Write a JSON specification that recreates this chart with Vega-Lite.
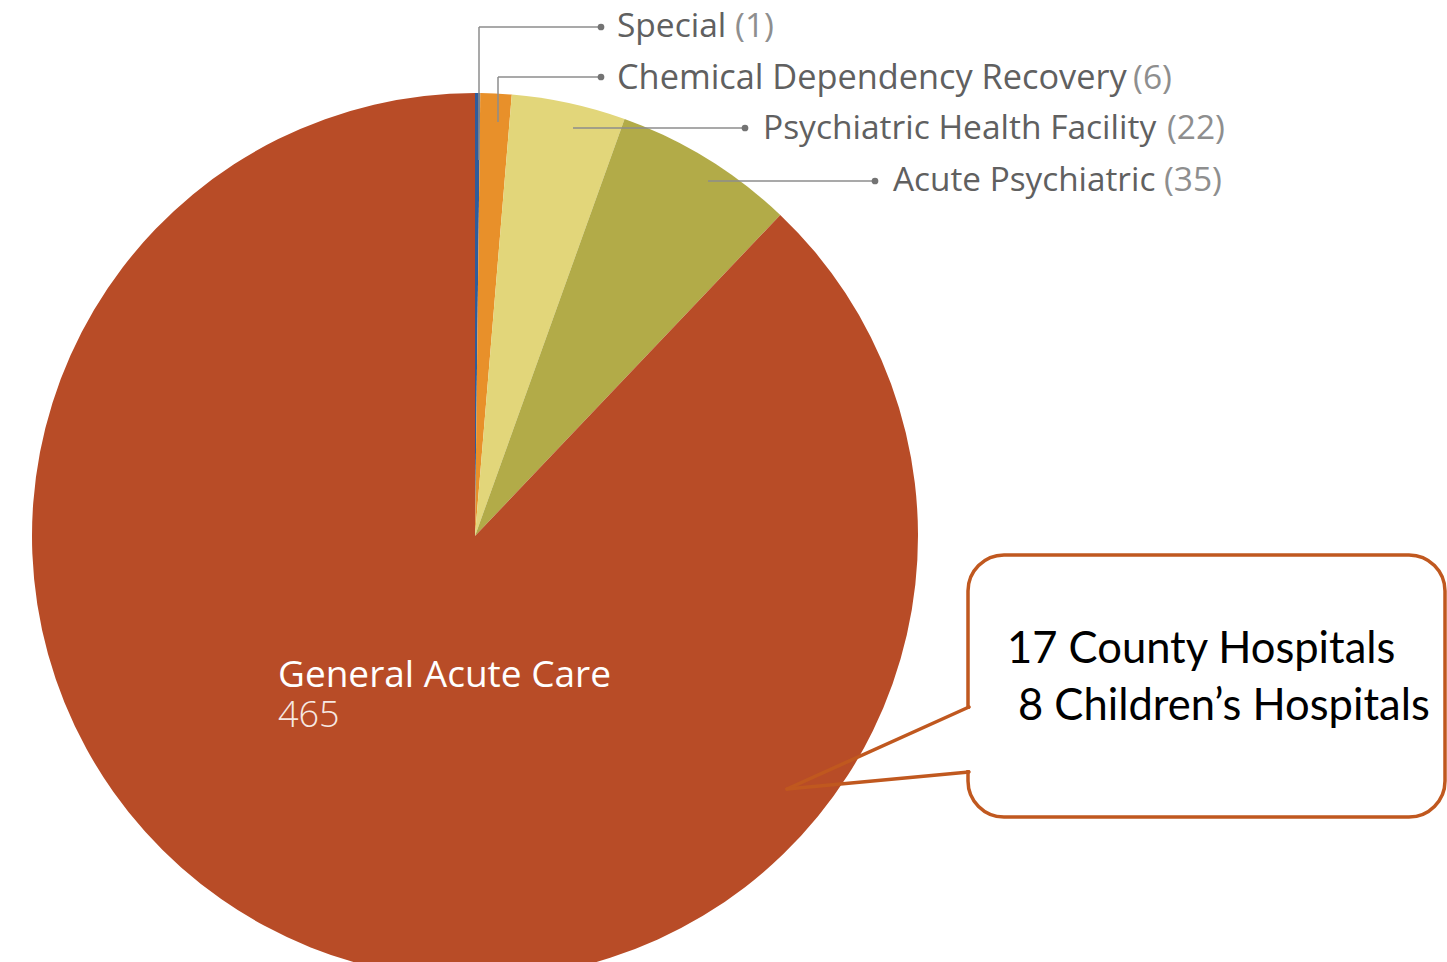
{
  "$schema": "https://vega.github.io/schema/vega-lite/v6.json",
  "width": 1447,
  "height": 962,
  "autosize": {"type": "none"},
  "padding": 0,
  "background": "white",
  "config": {"view": {"stroke": null}, "axis": {"disable": true}},
  "datasets": {
    "hospitals": [
      {"category": "Special", "count": 1},
      {"category": "Chemical Dependency Recovery", "count": 6},
      {"category": "Psychiatric Health Facility", "count": 22},
      {"category": "Acute Psychiatric", "count": 35},
      {"category": "General Acute Care", "count": 465}
    ]
  },
  "data": {"values": [{}]},
  "layer": [
    {
      "data": {"name": "hospitals"},
      "mark": {"type": "arc", "outerRadius": 443, "stroke": null},
      "encoding": {
        "theta": {"field": "count", "type": "quantitative", "stack": true},
        "order": {"field": "count", "type": "quantitative", "sort": "ascending"},
        "color": {
          "field": "category", "type": "nominal", "legend": null,
          "scale": {
            "domain": ["Special", "Chemical Dependency Recovery", "Psychiatric Health Facility", "Acute Psychiatric", "General Acute Care"],
            "range": ["#2f5c9b", "#e8902a", "#e2d67a", "#b2ab48", "#b84c27"]
          }
        },
        "x": {"datum": 475, "type": "quantitative", "scale": {"domain": [0, 1447], "nice": false, "zero": false}, "axis": null},
        "y": {"datum": 536, "type": "quantitative", "scale": {"domain": [0, 962], "nice": false, "zero": false, "reverse": true}, "axis": null}
      }
    },
    {"mark": {"type": "rule", "color": "#8c8c8c", "strokeWidth": 1.5},
     "encoding": {"x": {"datum": 479, "type": "quantitative"}, "x2": {"datum": 601}, "y": {"datum": 27, "type": "quantitative"}, "y2": {"datum": 27}}},
    {"mark": {"type": "rule", "color": "#8c8c8c", "strokeWidth": 1.5},
     "encoding": {"x": {"datum": 479, "type": "quantitative"}, "x2": {"datum": 479}, "y": {"datum": 27, "type": "quantitative"}, "y2": {"datum": 160}}},
    {"mark": {"type": "rule", "color": "#8c8c8c", "strokeWidth": 1.5},
     "encoding": {"x": {"datum": 498, "type": "quantitative"}, "x2": {"datum": 601}, "y": {"datum": 77, "type": "quantitative"}, "y2": {"datum": 77}}},
    {"mark": {"type": "rule", "color": "#8c8c8c", "strokeWidth": 1.5},
     "encoding": {"x": {"datum": 498, "type": "quantitative"}, "x2": {"datum": 498}, "y": {"datum": 77, "type": "quantitative"}, "y2": {"datum": 122}}},
    {"mark": {"type": "rule", "color": "#8c8c8c", "strokeWidth": 1.5},
     "encoding": {"x": {"datum": 573, "type": "quantitative"}, "x2": {"datum": 745}, "y": {"datum": 128, "type": "quantitative"}, "y2": {"datum": 128}}},
    {"mark": {"type": "rule", "color": "#8c8c8c", "strokeWidth": 1.5},
     "encoding": {"x": {"datum": 708, "type": "quantitative"}, "x2": {"datum": 875}, "y": {"datum": 181, "type": "quantitative"}, "y2": {"datum": 181}}},
    {"mark": {"type": "point", "filled": true, "color": "#737373", "size": 45, "opacity": 1},
     "encoding": {"x": {"datum": 601, "type": "quantitative"}, "y": {"datum": 27, "type": "quantitative"}}},
    {"mark": {"type": "point", "filled": true, "color": "#737373", "size": 45, "opacity": 1},
     "encoding": {"x": {"datum": 601, "type": "quantitative"}, "y": {"datum": 77, "type": "quantitative"}}},
    {"mark": {"type": "point", "filled": true, "color": "#737373", "size": 45, "opacity": 1},
     "encoding": {"x": {"datum": 745, "type": "quantitative"}, "y": {"datum": 128, "type": "quantitative"}}},
    {"mark": {"type": "point", "filled": true, "color": "#737373", "size": 45, "opacity": 1},
     "encoding": {"x": {"datum": 875, "type": "quantitative"}, "y": {"datum": 181, "type": "quantitative"}}},
    {"data": {"name": "hospitals"},
     "transform": [{"filter": "datum.category === 'Special'"}],
     "mark": {"type": "text", "align": "left", "baseline": "alphabetic", "font": "Open Sans", "fontSize": 33.5, "color": "#606060"},
     "encoding": {"x": {"datum": 617, "type": "quantitative"}, "y": {"datum": 37, "type": "quantitative"}, "text": {"field": "category"}}},
    {"data": {"name": "hospitals"},
     "transform": [{"filter": "datum.category === 'Special'"}, {"calculate": "'(' + datum.count + ')'", "as": "label"}],
     "mark": {"type": "text", "align": "right", "baseline": "alphabetic", "font": "Open Sans", "fontSize": 33.5, "color": "#8e8e8e"},
     "encoding": {"x": {"datum": 774, "type": "quantitative"}, "y": {"datum": 37, "type": "quantitative"}, "text": {"field": "label"}}},
    {"data": {"name": "hospitals"},
     "transform": [{"filter": "datum.category === 'Chemical Dependency Recovery'"}],
     "mark": {"type": "text", "align": "left", "baseline": "alphabetic", "font": "Open Sans", "fontSize": 34.3, "color": "#606060"},
     "encoding": {"x": {"datum": 617, "type": "quantitative"}, "y": {"datum": 89, "type": "quantitative"}, "text": {"field": "category"}}},
    {"data": {"name": "hospitals"},
     "transform": [{"filter": "datum.category === 'Chemical Dependency Recovery'"}, {"calculate": "'(' + datum.count + ')'", "as": "label"}],
     "mark": {"type": "text", "align": "right", "baseline": "alphabetic", "font": "Open Sans", "fontSize": 33.5, "color": "#8e8e8e"},
     "encoding": {"x": {"datum": 1172, "type": "quantitative"}, "y": {"datum": 89, "type": "quantitative"}, "text": {"field": "label"}}},
    {"data": {"name": "hospitals"},
     "transform": [{"filter": "datum.category === 'Psychiatric Health Facility'"}],
     "mark": {"type": "text", "align": "left", "baseline": "alphabetic", "font": "Open Sans", "fontSize": 33.5, "color": "#606060"},
     "encoding": {"x": {"datum": 763, "type": "quantitative"}, "y": {"datum": 139, "type": "quantitative"}, "text": {"field": "category"}}},
    {"data": {"name": "hospitals"},
     "transform": [{"filter": "datum.category === 'Psychiatric Health Facility'"}, {"calculate": "'(' + datum.count + ')'", "as": "label"}],
     "mark": {"type": "text", "align": "right", "baseline": "alphabetic", "font": "Open Sans", "fontSize": 33.5, "color": "#8e8e8e"},
     "encoding": {"x": {"datum": 1225, "type": "quantitative"}, "y": {"datum": 139, "type": "quantitative"}, "text": {"field": "label"}}},
    {"data": {"name": "hospitals"},
     "transform": [{"filter": "datum.category === 'Acute Psychiatric'"}],
     "mark": {"type": "text", "align": "left", "baseline": "alphabetic", "font": "Open Sans", "fontSize": 33.3, "color": "#606060"},
     "encoding": {"x": {"datum": 893, "type": "quantitative"}, "y": {"datum": 191, "type": "quantitative"}, "text": {"field": "category"}}},
    {"data": {"name": "hospitals"},
     "transform": [{"filter": "datum.category === 'Acute Psychiatric'"}, {"calculate": "'(' + datum.count + ')'", "as": "label"}],
     "mark": {"type": "text", "align": "right", "baseline": "alphabetic", "font": "Open Sans", "fontSize": 33.5, "color": "#8e8e8e"},
     "encoding": {"x": {"datum": 1222, "type": "quantitative"}, "y": {"datum": 191, "type": "quantitative"}, "text": {"field": "label"}}},
    {"data": {"name": "hospitals"},
     "transform": [{"filter": "datum.category === 'General Acute Care'"}],
     "mark": {"type": "text", "align": "left", "baseline": "alphabetic", "font": "Open Sans", "fontSize": 37, "color": "white"},
     "encoding": {"x": {"datum": 278, "type": "quantitative"}, "y": {"datum": 687, "type": "quantitative"}, "text": {"field": "category"}}},
    {"data": {"name": "hospitals"},
     "transform": [{"filter": "datum.category === 'General Acute Care'"}],
     "mark": {"type": "text", "align": "left", "baseline": "alphabetic", "font": "Open Sans", "fontSize": 36, "fontWeight": 300, "color": "#f6e8e2"},
     "encoding": {"x": {"datum": 278, "type": "quantitative"}, "y": {"datum": 727, "type": "quantitative"}, "text": {"field": "count", "type": "quantitative"}}},
    {"mark": {"type": "rect", "fill": "white", "stroke": "#c0581f", "strokeWidth": 3.5, "cornerRadius": 36},
     "encoding": {"x": {"datum": 968, "type": "quantitative"}, "x2": {"datum": 1445}, "y": {"datum": 555, "type": "quantitative"}, "y2": {"datum": 817}}},
    {"mark": {"type": "rect", "fill": "white", "stroke": null},
     "encoding": {"x": {"datum": 964, "type": "quantitative"}, "x2": {"datum": 973}, "y": {"datum": 709, "type": "quantitative"}, "y2": {"datum": 770}}},
    {"mark": {"type": "rule", "color": "#c0581f", "strokeWidth": 3.5, "strokeCap": "round"},
     "encoding": {"x": {"datum": 969, "type": "quantitative"}, "x2": {"datum": 787}, "y": {"datum": 707, "type": "quantitative"}, "y2": {"datum": 789}}},
    {"mark": {"type": "rule", "color": "#c0581f", "strokeWidth": 3.5, "strokeCap": "round"},
     "encoding": {"x": {"datum": 787, "type": "quantitative"}, "x2": {"datum": 969}, "y": {"datum": 789, "type": "quantitative"}, "y2": {"datum": 772}}},
    {"mark": {"type": "text", "align": "left", "baseline": "alphabetic", "font": "Lato", "fontSize": 43.5, "color": "black", "text": "17 County Hospitals"},
     "encoding": {"x": {"datum": 1007, "type": "quantitative"}, "y": {"datum": 663, "type": "quantitative"}}},
    {"mark": {"type": "text", "align": "left", "baseline": "alphabetic", "font": "Lato", "fontSize": 43.5, "color": "black", "text": "8 Children’s Hospitals"},
     "encoding": {"x": {"datum": 1018, "type": "quantitative"}, "y": {"datum": 720, "type": "quantitative"}}}
  ]
}
